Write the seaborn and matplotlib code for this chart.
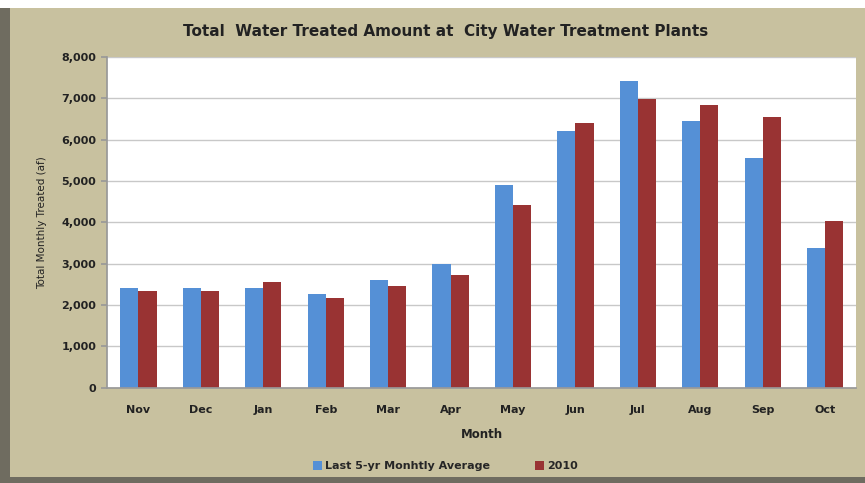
import pandas as pd
import matplotlib.pyplot as plt
import seaborn as sns
from matplotlib.patches import Rectangle
from matplotlib.ticker import FuncFormatter

months = ["Nov", "Dec", "Jan", "Feb", "Mar", "Apr", "May", "Jun", "Jul", "Aug", "Sep", "Oct"]
avg_5yr = [2405, 2405, 2410, 2260, 2600, 2990, 4910, 6210, 7420, 6450, 5560, 3375]
year_2010 = [2350, 2350, 2560, 2170, 2460, 2720, 4430, 6400, 6990, 6850, 6555, 4030]
series = ["Last 5-yr Monhtly Average", "2010"]

df = pd.DataFrame({
    "Month": months * 2,
    "Series": [series[0]] * 12 + [series[1]] * 12,
    "Treated": avg_5yr + year_2010,
})

sns.set_theme(style="white")
plt.rcParams["font.family"] = ["DejaVu Sans"]

bg = "#c8c19f"
fig = plt.figure(figsize=(8.65, 4.83), dpi=100, facecolor="white")

# tan panel with dark shadow on the left and bottom
fig.patches.append(Rectangle((0, 0), 1, 0.983, transform=fig.transFigure,
                             facecolor="#6f6c60", edgecolor="none", zorder=-3))
fig.patches.append(Rectangle((0.012, 0.012), 0.988, 0.971, transform=fig.transFigure,
                             facecolor=bg, edgecolor="none", zorder=-2))

ax = fig.add_axes([0.124, 0.197, 0.866, 0.685])
sns.barplot(data=df, x="Month", y="Treated", hue="Series",
            palette=["#5590d6", "#993333"], width=0.58, gap=0,
            saturation=1, linewidth=0, ax=ax, legend=True)

ax.set_facecolor("white")
ax.set_ylim(0, 8000)
ax.set_yticks(range(0, 8001, 1000))
ax.yaxis.set_major_formatter(FuncFormatter(lambda v, p: f"{int(v):,}"))
ax.yaxis.grid(True, color="#c8c8c8", linewidth=1)
ax.set_axisbelow(True)
ax.set_xlim(-0.5, 11.5)
ax.set_xticks([i - 0.5 for i in range(13)], minor=True)
ax.tick_params(axis="x", which="major", length=0, pad=12)
ax.tick_params(axis="x", which="minor", length=4, color="#999999", direction="out")
ax.tick_params(axis="y", length=4, color="#999999", direction="out", left=True, pad=4)
for t in ax.get_xticklabels() + ax.get_yticklabels():
    t.set_fontsize(8)
    t.set_fontweight("bold")
    t.set_color("#222222")

for s in ["top", "right"]:
    ax.spines[s].set_visible(False)
ax.spines["left"].set_color("#999999")
ax.spines["bottom"].set_color("#999999")

ax.set_xlabel("Month", fontsize=8.5, fontweight="bold", color="#222222", labelpad=10)
ax.set_ylabel("Total Monthly Treated (af)", fontsize=7.5, color="#222222", labelpad=10)

fig.text(0.515, 0.935, "Total  Water Treated Amount at  City Water Treatment Plants",
         ha="center", va="center", fontsize=11, fontweight="bold", color="#222222")

handles, labels = ax.get_legend_handles_labels()
ax.legend_.remove()
fig.legend(handles, labels, loc="center", bbox_to_anchor=(0.515, 0.035), ncol=2,
           frameon=False, handlelength=0.8, handleheight=0.8, columnspacing=4,
           handletextpad=0.3, prop={"size": 8, "weight": "bold"})

plt.savefig("out.png", dpi=100, facecolor=fig.get_facecolor())
